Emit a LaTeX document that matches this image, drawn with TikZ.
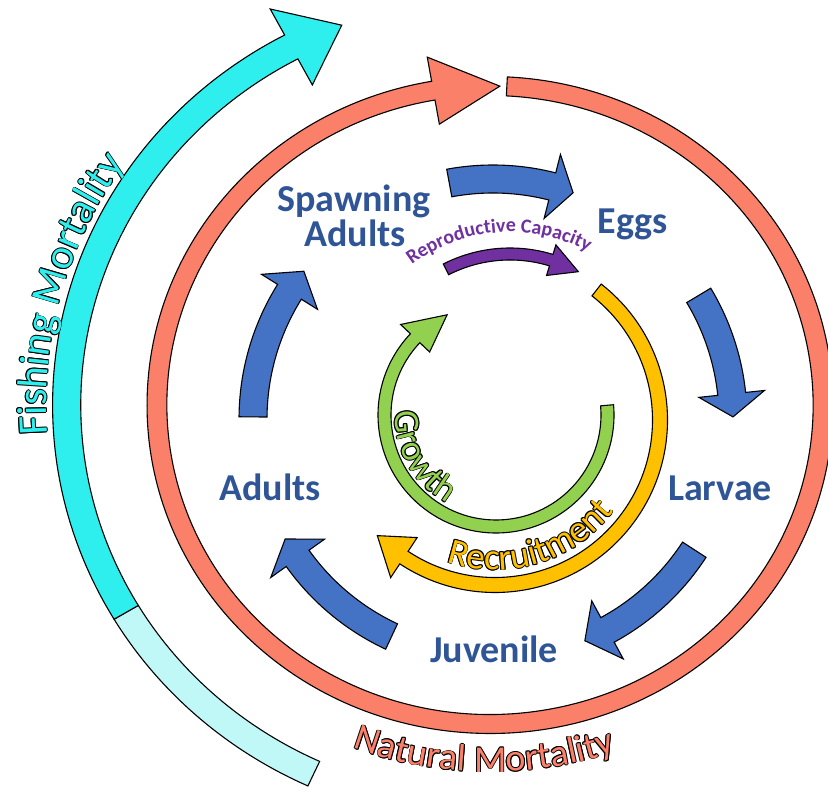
\documentclass[tikz,border=0pt]{standalone}
\usepackage{fontspec}
\setmainfont{Carlito}
\usepackage{tikz}
\usetikzlibrary{decorations.text}
\definecolor{fishcyan}{RGB}{46,238,238}
\definecolor{fishlight}{RGB}{192,248,248}
\definecolor{natsalmon}{RGB}{250,128,106}
\definecolor{stageblue}{RGB}{68,114,196}
\definecolor{labelblue}{RGB}{47,85,151}
\definecolor{recyellow}{RGB}{255,192,0}
\definecolor{growgreen}{RGB}{146,208,80}
\definecolor{repurple}{RGB}{112,48,160}
\tikzstyle{outlined}=[draw=black, line width=1.1bp]
\tikzstyle{stage}=[outlined, fill=stageblue]
\tikzstyle{natural}=[outlined, fill=natsalmon]
\tikzstyle{fishing}=[outlined, fill=fishcyan]
\tikzstyle{fishingpast}=[outlined, fill=fishlight]
\tikzstyle{growth}=[outlined, fill=growgreen]
\tikzstyle{recruit}=[outlined, fill=recyellow]
\tikzstyle{repro}=[outlined, fill=repurple]
\tikzstyle{stagelabel}=[text=labelblue, font=\bfseries\fontsize{38bp}{38bp}\selectfont, anchor=base, inner sep=0pt]
\newcommand{\fishfont}{\fontsize{42bp}{42bp}\selectfont}
\newcommand{\natfont}{\fontsize{38bp}{38bp}\selectfont}
\newcommand{\growfont}{\fontsize{36bp}{36bp}\selectfont}
\newcommand{\recfont}{\fontsize{37bp}{37bp}\selectfont}
\newcommand{\repfont}{\bfseries\fontsize{20bp}{20bp}\selectfont}
\newcommand{\ringArrow}[7]{
	\draw[#1] ({#4}:{#2+#3}) arc[start angle=#4, end angle=#5, radius=#2+#3]
		-- ({#5}:{#2+#7}) -- ({#6}:{#2}) -- ({#5}:{#2-#7}) -- ({#5}:{#2-#3})
		arc[start angle=#5, end angle=#4, radius=#2-#3] -- cycle;
}
\newcommand{\ringBand}[5]{
	\draw[#1] ({#4}:{#2+#3}) arc[start angle=#4, end angle=#5, radius=#2+#3]
		-- ({#5}:{#2-#3}) arc[start angle=#5, end angle=#4, radius=#2-#3] -- cycle;
}
\newcommand{\arcLabel}[6]{
	\foreach \ox/\oy in {.8/0,-.8/0,0/.8,0/-.8,.6/.6,-.6/.6,.6/-.6,-.6/-.6}
		\path[shift={(\ox,\oy)}, decorate, decoration={text along path, text={|#2\color{black}|#6}}]
			({#4}:{#3}) arc[start angle=#4, end angle=#5, radius=#3];
	\path[decorate, decoration={text along path, text={|#2\color{#1}|#6}}]
		({#4}:{#3}) arc[start angle=#4, end angle=#5, radius=#3];
}

\begin{document}
\begin{tikzpicture}[x=1bp, y=1bp]
	\useasboundingbox (0,0) rectangle (828,793);
	\begin{scope}[shift={(490,388)}, xscale=1.044]
		\ringBand{fishingpast}{405.5}{13.5}{-114.6}{-149.25}
		\ringArrow{fishing}{405.5}{13.5}{-149.25}{-242}{-249.5}{43}
		\ringArrow{natural}{319}{9.5}{87.1}{-260.2}{-271.7}{34}
		\arcLabel{fishcyan}{\fishfont}{425}{184}{120}{Fishing Mortality}
		\arcLabel{natsalmon}{\natfont}{367}{-111}{-50}{Natural Mortality}
	\end{scope}
	\begin{scope}[shift={(493,374)}]
		\ringArrow{stage}{240}{14}{100.5}{75.7}{70.5}{33}
		\ringArrow{stage}{240}{14}{31}{6}{0.5}{33}
		\ringArrow{stage}{240}{14}{-33}{-61.5}{-67.5}{33}
		\ringArrow{stage}{240}{14}{-115}{-144.5}{-150}{33}
		\ringArrow{stage}{240}{14}{179.5}{148}{142}{33}
	\end{scope}
	\begin{scope}[shift={(510,398)}]
		\ringArrow{repro}{141}{6}{117}{73}{61}{16}
		\path[decorate, decoration={text along path, text={|\repfont\color{repurple}|Reproductive Capacity}}]
			(127:163) arc[start angle=127, end angle=30, radius=163];
	\end{scope}
	\begin{scope}[shift={(495,373)}]
		\ringArrow{recruit}{165}{7.5}{52}{-123.5}{-135.5}{24}
		\arcLabel{recyellow}{\recfont}{150}{-109}{-10}{Recruitment}
	\end{scope}
	\begin{scope}[shift={(496,378)}]
		\ringArrow{growth}{111.5}{6.5}{5}{-223.5}{-244}{20}
		\arcLabel{growgreen}{\growfont}{101}{178}{270}{Growth}
	\end{scope}
	\node[stagelabel] (spawning) at (354,581) {Spawning};
	\node[stagelabel] (spawnadults) at (355,546) {Adults};
	\node[stagelabel] (eggs) at (633,559) {Eggs};
	\node[stagelabel] (larvae) at (720,292) {Larvae};
	\node[stagelabel] (juvenile) at (494,130) {Juvenile};
	\node[stagelabel] (adults) at (270,292) {Adults};
\end{tikzpicture}
\end{document}
